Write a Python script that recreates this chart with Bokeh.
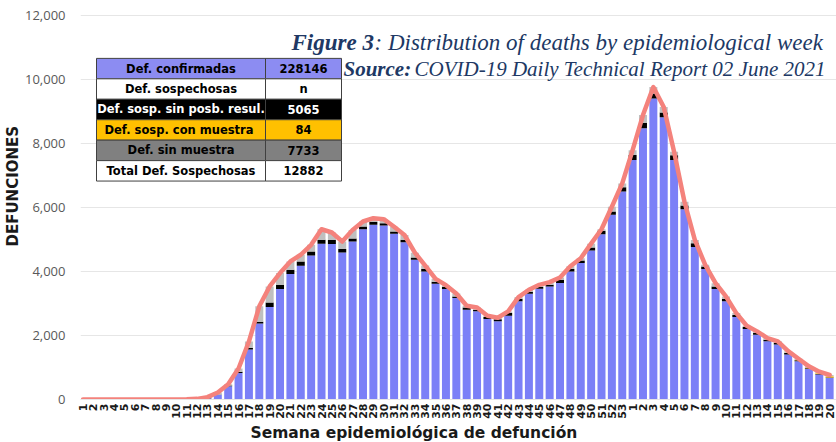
import numpy as np
from bokeh.plotting import figure
from bokeh.models import Range1d, FixedTicker, NumeralTickFormatter, Label, ColumnDataSource, Title
from bokeh.embed import file_html
from bokeh.resources import INLINE

# ---------------- data ----------------
week_labels = [str(i) for i in range(1, 54)] + [str(i) for i in range(1, 21)]

confirmadas = [0] * 11 + [10, 40, 150, 415, 830, 1560, 2370, 2890, 3450,
               3918, 4177, 4498, 4863, 4853, 4592, 4935, 5320, 5455, 5434,
               5175, 4915, 4364, 4000, 3616, 3450, 3170, 2805, 2753, 2515,
               2441, 2618, 3065, 3304, 3460, 3532, 3636, 4000, 4260, 4655, 5164, 5767, 6494,
               7481, 8469, 9405, 8812, 7481, 5944, 4760, 4073, 3450, 3065,
               2577, 2203, 2026, 1818, 1714, 1403, 1195, 955, 779, 675]

sin_posb = [0] * 11 + [0, 5, 10, 20, 40, 50, 62, 140, 135,
            134, 134, 125, 125, 135, 105, 93, 83, 94, 73,
            72, 73, 72, 73, 62, 62, 50, 72, 52, 62,
            63, 84, 83, 63, 62, 53, 94, 73, 83, 93, 104, 103, 136,
            156, 175, 155, 156, 146, 113, 123, 83, 82, 73,
            62, 62, 52, 52, 52, 52, 31, 21, 15, 10]

con_muestra = [0] * 53 + [0] * 15 + [4, 5, 10, 25, 40]

sin_muestra = [0] * 9 + [2, 5, 10, 30, 60, 40, 100, 200, 480, 500, 365,
               260, 210, 210, 330, 228, 238, 270, 157, 114, 125,
               150, 150, 150, 110, 90, 60, 90, 50, 70, 40,
               50, 50, 50, 60, 60, 80, 80, 90, 70, 120, 50, 150, 120,
               150, 240, 200, 170, 110, 120, 100, 50, 100, 80,
               60, 40, 50, 50, 50, 50, 40, 50, 50, 40]

table_labels = ["Def. confirmadas", "Def. sospechosas", "Def. sosp. sin posb. resul.",
                "Def. sosp. con  muestra", "Def. sin muestra", "Total Def. Sospechosas"]
table_values = ["228146", "n", "5065", "84", "7733", "12882"]

y_ticks = [0, 2000, 4000, 6000, 8000, 10000, 12000]

# ---------------- layout ----------------
W, H = 836, 442
ML, MT, MB = 80, 10, 42
UNIT = 10.37
FIRST = 82.5          # pixel centre of the first bar
X0 = -(FIRST - ML) / UNIT
X1 = X0 + (W - ML) / UNIT
Y1 = 12150
FH = H - MT - MB

def dx(px):
    return X0 + (px - ML) / UNIT

def dy(py):
    return (H - MB - py) * Y1 / FH

n = len(week_labels)
xs = list(range(n))
total = [a + b + c + d for a, b, c, d in zip(confirmadas, sin_posb, con_muestra, sin_muestra)]

src = ColumnDataSource(dict(x=xs, conf=confirmadas, negro=sin_posb,
                            naranja=con_muestra, gris=sin_muestra, total=total))

p = figure(width=W, height=H, output_backend="svg", toolbar_location=None,
           x_range=Range1d(X0, X1), y_range=Range1d(0, Y1),
           min_border_left=ML, min_border_right=0, min_border_top=MT,
           min_border_bottom=MB)
p.outline_line_color = None
p.background_fill_color = "white"

p.vbar_stack(['conf', 'negro', 'naranja', 'gris'], x='x', width=0.77,
             fill_color=["#7B80F7", "#000000", "#FFC000", "#BFBFBF"],
             line_color=None, source=src)
p.line('x', 'total', source=src, line_color="#F4827C", line_width=4.5,
       line_join="round", line_cap="round")

# axes
p.xgrid.grid_line_color = None
p.ygrid.grid_line_color = "#E6E6E6"
p.ygrid.ticker = FixedTicker(ticks=y_ticks)

p.yaxis.ticker = FixedTicker(ticks=y_ticks)
p.yaxis.formatter = NumeralTickFormatter(format="0,0")
p.yaxis.axis_line_color = None
p.yaxis.major_tick_line_color = None
p.yaxis.minor_tick_line_color = None
p.yaxis.major_tick_out = 0
p.yaxis.major_label_standoff = 15
p.yaxis.major_label_text_font = "Open Sans"
p.yaxis.major_label_text_font_size = "13px"
p.yaxis.major_label_text_color = "#595959"

p.xaxis.ticker = FixedTicker(ticks=xs)
p.xaxis.major_label_overrides = {i: week_labels[i] for i in xs}
p.xaxis.major_label_orientation = np.pi / 2
p.xaxis.axis_line_color = "#E6E6E6"
p.xaxis.major_tick_line_color = None
p.xaxis.minor_tick_line_color = None
p.xaxis.major_tick_out = 0
p.xaxis.major_label_standoff = 4
p.xaxis.major_label_text_font = "DejaVu Sans"
p.xaxis.major_label_text_font_style = "bold"
p.xaxis.major_label_text_font_size = "11px"
p.xaxis.major_label_text_color = "#1A1A1A"

# axis titles as side titles
p.add_layout(Title(text="DEFUNCIONES", align="left", offset=153, standoff=0,
                   text_font="DejaVu Sans", text_font_style="bold",
                   text_font_size="15px", text_color="#1A1A1A"), "left")
p.add_layout(Title(text="Semana epidemiológica de defunción", align="left", offset=170,
                   standoff=1, text_font="DejaVu Sans", text_font_style="bold",
                   text_font_size="15.5px", text_color="#1A1A1A"), "below")

# chart title (inside the frame)
navy = "#203864"
p.add_layout(Label(x=dx(291), y=dy(42), text="Figure 3", text_baseline="middle",
                   text_font="Liberation Serif", text_font_style="bold italic",
                   text_font_size="23px", text_color=navy))
p.add_layout(Label(x=dx(374), y=dy(42), text=": Distribution of deaths by epidemiological week",
                   text_baseline="middle",
                   text_font="Liberation Serif", text_font_style="italic",
                   text_font_size="23px", text_color=navy))
p.add_layout(Label(x=dx(343), y=dy(68.5), text="Source:", text_baseline="middle",
                   text_font="Liberation Serif", text_font_style="bold italic",
                   text_font_size="21px", text_color=navy))
p.add_layout(Label(x=dx(414), y=dy(68.5), text="COVID-19 Daily Technical Report 02 June 2021",
                   text_baseline="middle",
                   text_font="Liberation Serif", text_font_style="italic",
                   text_font_size="21px", text_color=navy))

# summary table
tx0, txm, tx1 = 96, 265, 341
ty0, rh = 58, 20.5
row_fill = ["#8C8CF2", "#FFFFFF", "#000000", "#FFC000", "#808080", "#FFFFFF"]
row_text = ["#000000", "#000000", "#FFFFFF", "#000000", "#000000", "#000000"]
for r in range(len(table_labels)):
    top = ty0 + r * rh
    bot = top + rh
    p.quad(left=[dx(tx0), dx(txm)], right=[dx(txm), dx(tx1)],
           top=[dy(top)] * 2, bottom=[dy(bot)] * 2,
           fill_color=row_fill[r], line_color="#404040", line_width=1)
    p.add_layout(Label(x=dx((tx0 + txm) / 2), y=dy(top + rh / 2), text=table_labels[r],
                       text_align="center", text_baseline="middle",
                       text_font="DejaVu Sans", text_font_style="bold",
                       text_font_size="11.5px", text_color=row_text[r]))
    p.add_layout(Label(x=dx((txm + tx1) / 2), y=dy(top + rh / 2), text=table_values[r],
                       text_align="center", text_baseline="middle",
                       text_font="DejaVu Sans", text_font_style="bold",
                       text_font_size="11.5px", text_color=row_text[r]))

open("out.html", "w").write(file_html(p, INLINE))
